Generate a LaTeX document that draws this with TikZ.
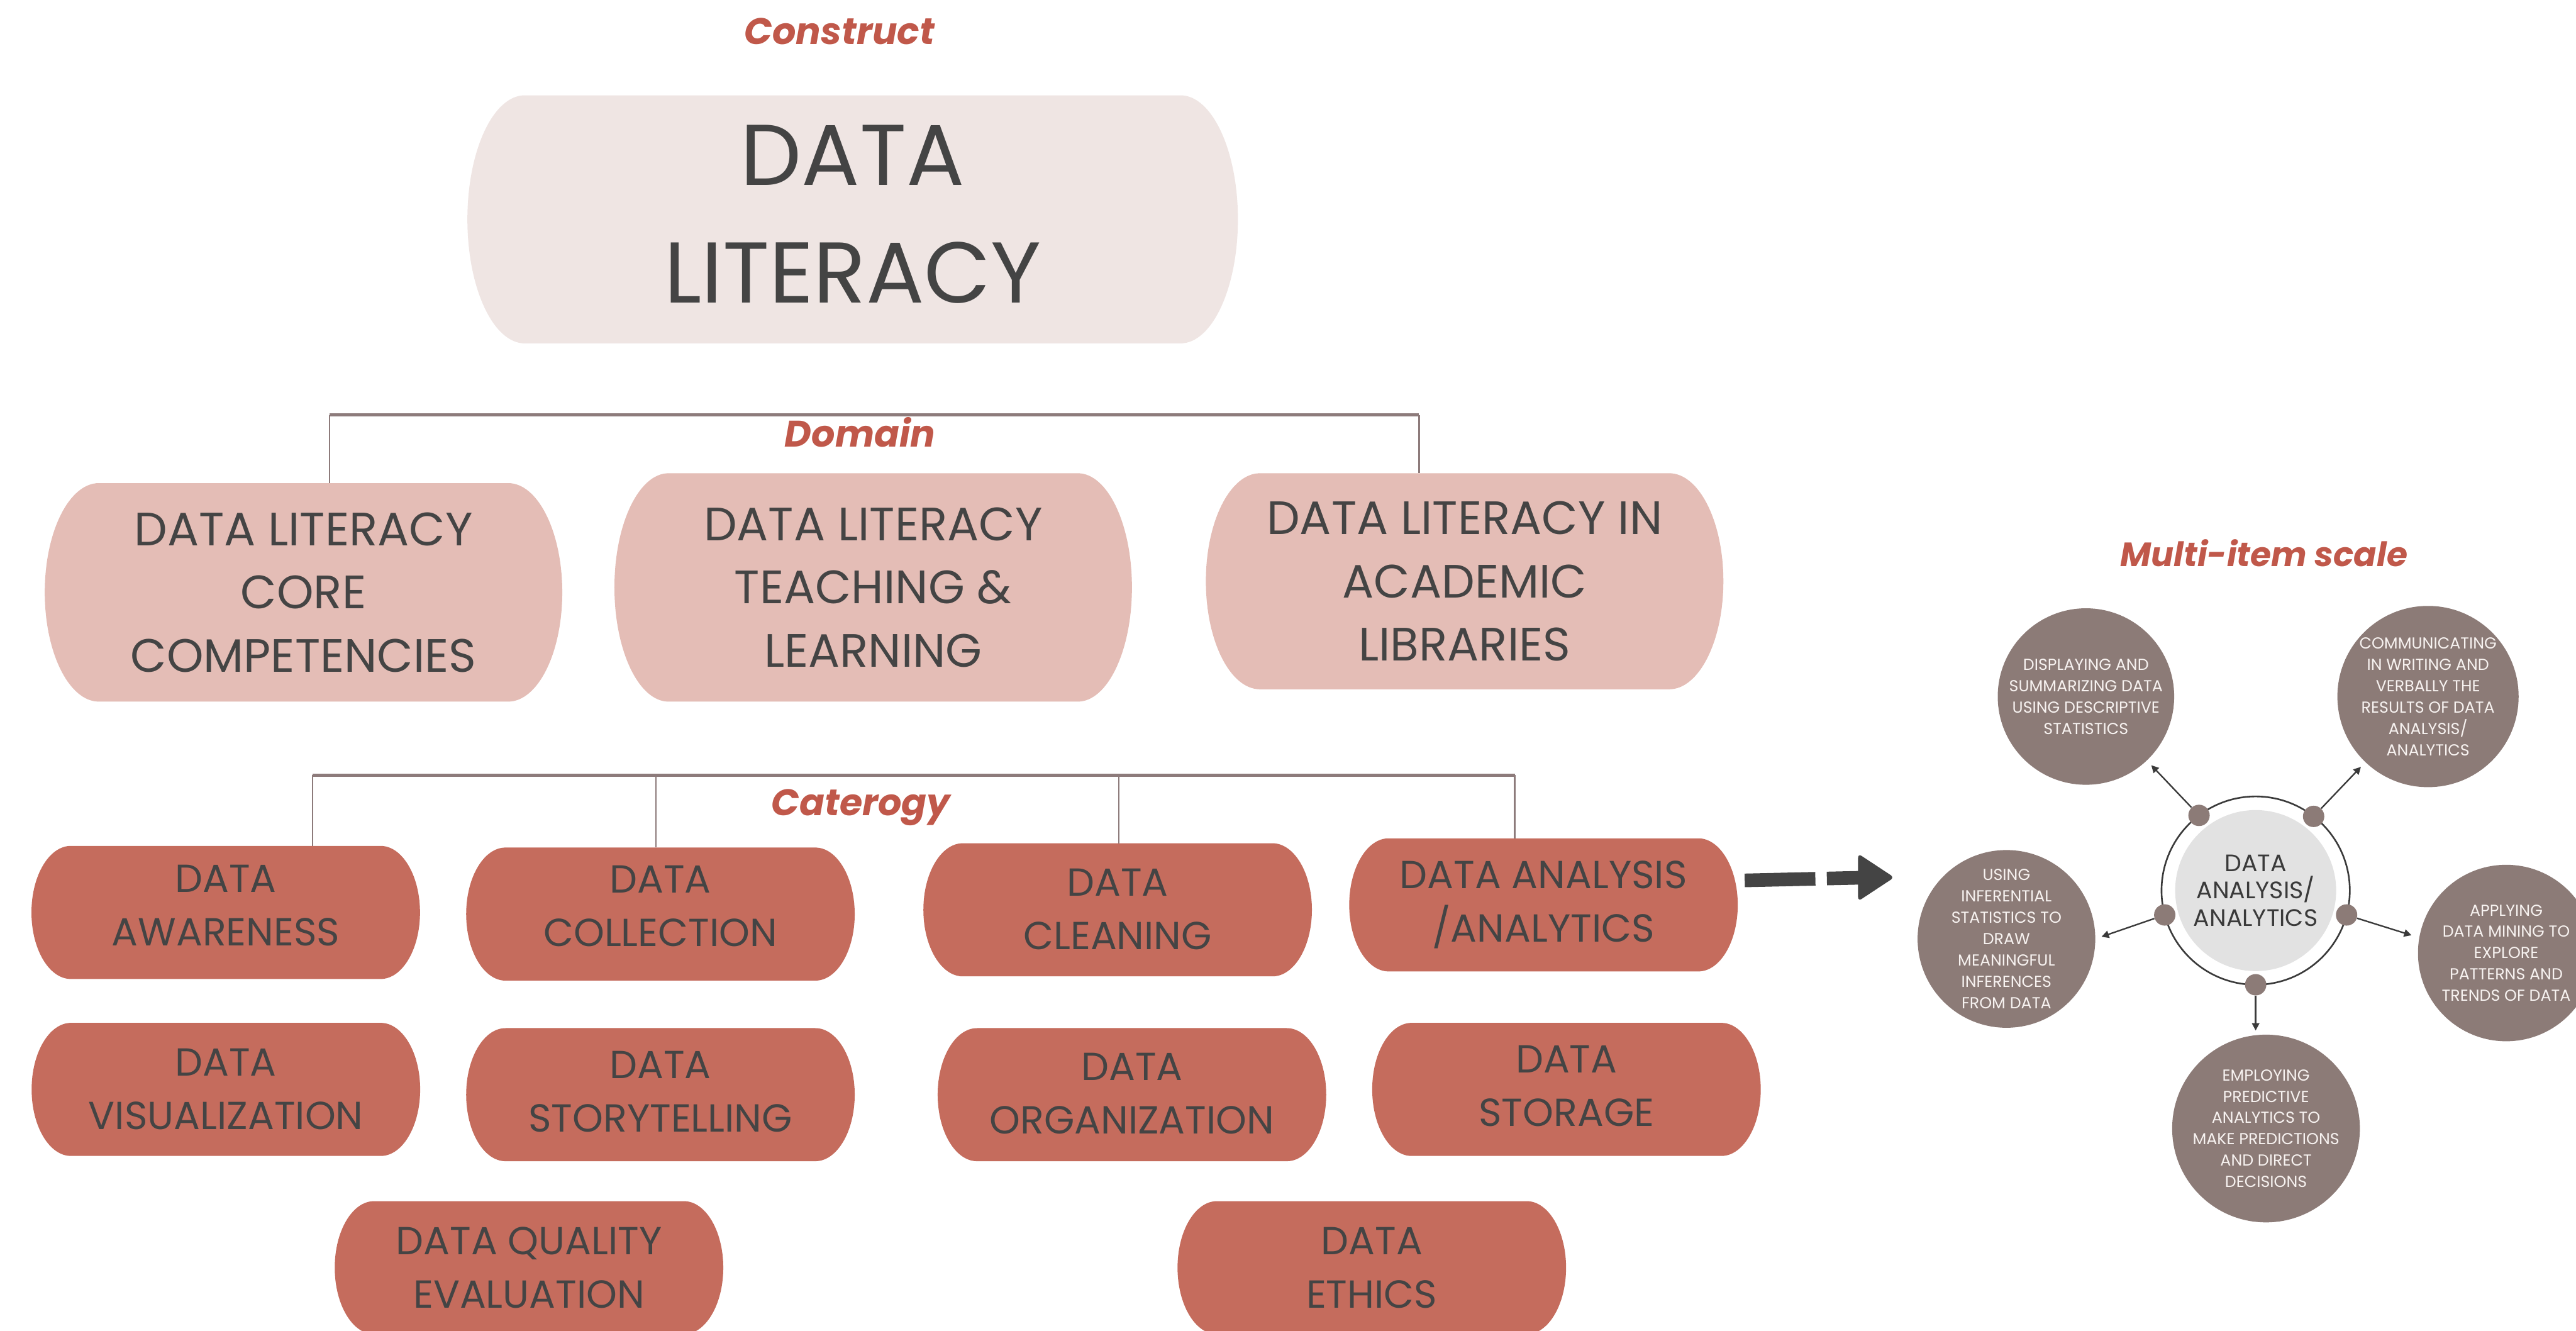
\documentclass[tikz,border=0pt]{standalone}
\usepackage{fontspec}
\setmainfont{Poppins}
\usetikzlibrary{calc,backgrounds,arrows.meta}

\definecolor{labelred}{HTML}{C0584A}
\definecolor{inkgray}{HTML}{444444}
\definecolor{constructfill}{HTML}{EFE5E3}
\definecolor{domainfill}{HTML}{E4BDB6}
\definecolor{catfill}{HTML}{C56C5D}
\definecolor{linkgray}{HTML}{8D7B7B}
\definecolor{itemfill}{HTML}{8C7B77}
\definecolor{hubfill}{HTML}{E2E2E2}
\definecolor{ringgray}{HTML}{3A3A3A}
\definecolor{itemtext}{HTML}{F7F2F0}

% Filled box with half-elliptic left and right ends, fitted to a node;
% the optional argument moves the box vertically against its text
\newcommand\pillfill[4][0pt]{%
  \begin{scope}[on background layer]
    \fill[#4] let \p1=(#2.south west), \p2=(#2.north east), \n1={(\y2-\y1)/2} in
      (\x1+#3,\y2+#1) -- (\x2-#3,\y2+#1)
      arc[start angle=90,end angle=-90,x radius=#3,y radius=\n1]
      -- (\x1+#3,\y1+#1)
      arc[start angle=270,end angle=90,x radius=#3,y radius=\n1] -- cycle;
  \end{scope}}

\tikzset{
  boxbase/.style={inner sep=0pt, outer sep=0pt, align=center, text=inkgray},
  constructbox/.style={boxbase, minimum width=469pt, minimum height=151pt,
    font=\fontsize{52.5}{71.5}\selectfont},
  domainbox/.style={boxbase, minimum width=315pt,
    font=\fontsize{28.5}{38.5}\selectfont},
  catbox/.style={boxbase, minimum width=236.5pt, minimum height=81pt,
    font=\fontsize{23.8}{32.5}\selectfont},
  tierlabel/.style={anchor=base, text=labelred, inner sep=0pt,
    font=\fontsize{22.5}{26}\bfseries\itshape\selectfont},
  barline/.style={draw=linkgray, line width=2.2pt},
  stemline/.style={draw=linkgray, line width=1pt},
  itemcircle/.style={circle, fill=itemfill, minimum size=107.4pt, inner sep=0pt,
    outer sep=0pt, align=center, text=itemtext, font=\fontsize{9.7}{13}\selectfont},
  hubdisk/.style={circle, fill=hubfill, minimum size=98pt, inner sep=0pt,
    align=center, text=ringgray, font=\fontsize{14.5}{16.5}\selectfont},
  hubring/.style={circle, draw=ringgray, line width=1pt, minimum size=114.6pt,
    inner sep=0pt, outer sep=0pt},
  hubdot/.style={circle, fill=itemfill, minimum size=13pt, inner sep=0pt},
  spoke/.style={draw=ringgray, line width=0.9pt,
    -{Triangle[length=4.5pt,width=4.5pt]}},
}

\begin{document}
\begin{tikzpicture}[x=1pt,y=-1pt]
\useasboundingbox (0,0) rectangle (1568,810);

% ---- tier labels
\node[tierlabel] (lconstruct) at (511,27) {Construct};
\node[tierlabel] (ldomain) at (523.5,272) {Domain};
\node[tierlabel] (lcategory) at (524,496.5) {Caterogy};
\node[tierlabel, font=\fontsize{20.5}{24}\bfseries\itshape\selectfont] (lscale) at (1378,344.6) {Multi-item scale};

% ---- construct
\node[constructbox] (dl) at (519,130.5) {DATA\\LITERACY};
\pillfill[-3pt]{dl}{35pt}{constructfill}

% ---- domains
\node[domainbox, minimum height=133pt] (dcore) at (184.75,360.5)
  {DATA LITERACY\\CORE\\COMPETENCIES};
\node[domainbox, minimum height=139pt] (dteach) at (531.5,357.5)
  {DATA LITERACY\\TEACHING \&\\LEARNING};
\node[domainbox, minimum height=131.5pt] (dacad) at (891.5,353.75)
  {DATA LITERACY IN\\ACADEMIC\\LIBRARIES};
\foreach \b in {dcore,dteach,dacad} {\pillfill{\b}{33pt}{domainfill}}

% ---- categories
\node[catbox] (aware)    at (137.4,551)   {DATA\\AWARENESS};
\node[catbox] (collect)  at (402,551.3)   {DATA\\COLLECTION};
\node[catbox] (clean)    at (680.3,553.2) {DATA\\CLEANING};
\node[catbox] (analysis) at (939.5,550.7) {DATA ANALYSIS\\/ANALYTICS};
\node[catbox] (visual)   at (137.5,663)   {DATA\\VISUALIZATION};
\node[catbox] (story)    at (402,664.5)   {DATA\\STORYTELLING};
\node[catbox] (organize) at (689,665.5)   {DATA\\ORGANIZATION};
\node[catbox] (storage)  at (953.5,661)   {DATA\\STORAGE};
\node[catbox] (quality)  at (322,771.5)   {DATA QUALITY\\EVALUATION};
\node[catbox] (ethics)   at (835,771.5)   {DATA\\ETHICS};
\pillfill[-4.3pt]{aware}{24pt}{catfill}
\pillfill[-5pt]{collect}{24pt}{catfill}
\pillfill[-0.5pt]{clean}{24pt}{catfill}
\pillfill{analysis}{24pt}{catfill}
\pillfill{visual}{24pt}{catfill}
\pillfill[-1.7pt]{story}{24pt}{catfill}
\pillfill[-0.7pt]{organize}{24pt}{catfill}
\pillfill[-2pt]{storage}{24pt}{catfill}
\pillfill{quality}{24pt}{catfill}
\pillfill{ethics}{24pt}{catfill}

% ---- domain bracket
\coordinate (dbarL) at (200.6,252.5);
\coordinate (dbarR) at (863.8,252.5);
\draw[stemline] (dbarL) -- (dbarL |- dcore.north);
\draw[stemline] (dbarR) -- (dbarR |- dacad.north);
\draw[barline] (dbarL) -- (dbarR);

% ---- category bracket (stems end at the filled box tops)
\coordinate (cbarL) at (190.3,471.8);
\coordinate (cbarA) at (399.2,471.8);
\coordinate (cbarB) at (681,471.8);
\coordinate (cbarR) at (922,471.8);
\draw[stemline] (cbarL) -- ([yshift=-4.3pt]cbarL |- aware.north);
\draw[stemline] (cbarA) -- ([yshift=-5pt]cbarA |- collect.north);
\draw[stemline] (cbarB) -- ([yshift=-0.5pt]cbarB |- clean.north);
\draw[stemline] (cbarR) -- (cbarR |- analysis.north);
\draw[barline] (cbarL) -- (cbarR);

% ---- arrow towards the scale
\coordinate (scaletail) at (1062,535.8);
\coordinate (scaleneck) at (1132,534.2);
\draw[inkgray, line width=8.3pt, dash pattern=on 43pt off 7pt] (scaletail) -- (scaleneck);
\fill[inkgray, rounded corners=2.5pt] (1131,519.5) -- (1153,534) -- (1131,548.5) -- cycle;

% ---- multi-item scale
\node[hubring] (ring) at (1373,542) {};
\node[hubdisk] (hub) at (1373,542) {DATA\\ANALYSIS/\\ANALYTICS};

\node[itemcircle] (idesc) at (1269.7,423.9)
  {DISPLAYING AND\\SUMMARIZING DATA\\USING DESCRIPTIVE\\STATISTICS};
\node[itemcircle] (icomm) at (1477.9,423.9)
  {COMMUNICATING\\IN WRITING AND\\VERBALLY THE\\RESULTS OF DATA\\ANALYSIS/\\ANALYTICS};
\node[itemcircle] (iinfer) at (1221.3,571.4)
  {USING\\INFERENTIAL\\STATISTICS TO\\DRAW\\MEANINGFUL\\INFERENCES\\FROM DATA};
\node[itemcircle] (imine) at (1525.5,580)
  {APPLYING\\DATA MINING TO\\EXPLORE\\PATTERNS AND\\TRENDS OF DATA};
\node[itemcircle] (ipred) at (1379.3,686.8)
  {EMPLOYING\\PREDICTIVE\\ANALYTICS TO\\MAKE PREDICTIONS\\AND DIRECT\\DECISIONS};

\node[hubdot] (dotdesc)  at (ring.127.4) {};
\node[hubdot] (dotcomm)  at (ring.52.6) {};
\node[hubdot] (dotinfer) at (ring.195.3) {};
\node[hubdot] (dotmine)  at (ring.-15.3) {};
\node[hubdot] (dotpred)  at (ring.-90) {};

\draw[spoke, shorten >=4pt] (dotdesc) -- (idesc);
\draw[spoke, shorten >=4pt] (dotcomm) -- (icomm);
\draw[spoke, shorten >=4pt] (dotinfer) -- (iinfer.east);
\draw[spoke, shorten >=5pt] (dotmine) -- (imine.170);
\draw[spoke, shorten >=2.5pt] (dotpred) -- (dotpred |- ipred.north);
\end{tikzpicture}
\end{document}
